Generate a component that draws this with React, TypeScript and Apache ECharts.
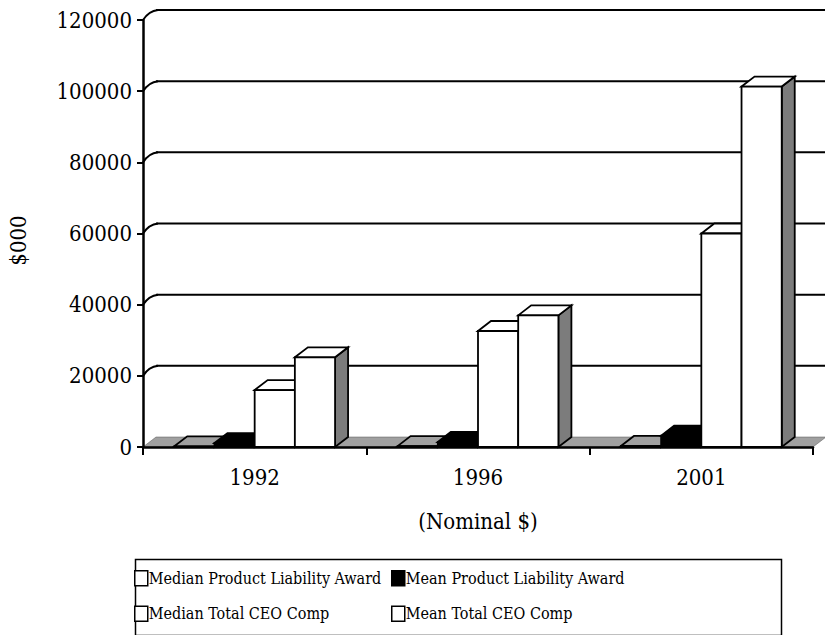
import React, { useEffect, useRef } from "react";
import * as echarts from "echarts";

const categories = ["1992", "1996", "2001"];
const seriesNames = [
  "Median Product Liability Award",
  "Mean Product Liability Award",
  "Median Total CEO Comp",
  "Mean Total CEO Comp",
];
const medianProductLiability = [200, 250, 300];
const meanProductLiability = [1100, 1400, 3200];
const medianCEOComp = [16000, 32600, 60000];
const meanCEOComp = [25200, 37000, 101300];
const yTicks = [0, 20000, 40000, 60000, 80000, 100000, 120000];

const FONT = '"DejaVu Serif Condensed", "DejaVu Serif", serif';
const DX = 13;
const DY = 10;
const SIDE = "#7c7c7c";
const FLOOR = "#a0a0a0";

const faceStyles = [
  { front: "#ffffff", top: FLOOR, side: SIDE, legend: "#ffffff" },
  { front: "#000000", top: "#000000", side: "#000000", legend: "#000000" },
  { front: "#ffffff", top: "#ffffff", side: SIDE, legend: "#ffffff" },
  { front: "#ffffff", top: "#ffffff", side: SIDE, legend: "#ffffff" },
];

const seriesValues = [medianProductLiability, meanProductLiability, medianCEOComp, meanCEOComp];

const makeBarRender = (idx: number) => (params: any, api: any) => {
  const cat = api.value(0);
  const v = api.value(1);
  const top = api.coord([cat, v]);
  const base = api.coord([cat, 0]);
  const band = api.size([1, 0])[0];
  const w = band * 0.18;
  const x0 = top[0] - 2 * w + idx * w;
  const yt = top[1];
  const yb = base[1];
  const st = faceStyles[idx];
  const stroke = { stroke: "#000", lineWidth: 1.8, lineJoin: "miter" };
  return {
    type: "group",
    children: [
      {
        type: "polygon",
        shape: { points: [[x0 + w, yt], [x0 + w + DX, yt - DY], [x0 + w + DX, yb - DY], [x0 + w, yb]] },
        style: { fill: st.side, ...stroke },
      },
      {
        type: "polygon",
        shape: { points: [[x0, yt], [x0 + DX, yt - DY], [x0 + w + DX, yt - DY], [x0 + w, yt]] },
        style: { fill: st.top, ...stroke },
      },
      {
        type: "rect",
        shape: { x: x0, y: yt, width: w, height: yb - yt },
        style: { fill: st.front, ...stroke },
      },
    ],
  };
};

const wallRender = (params: any, api: any) => {
  const v = api.value(1);
  const cs = params.coordSys;
  const y = api.coord([0, v])[1];
  const left = cs.x;
  const right = cs.x + cs.width;
  if (v === 0) {
    return {
      type: "polygon",
      shape: { points: [[left, y], [right, y], [right + DX, y - DY], [left + DX, y - DY]] },
      style: { fill: FLOOR, stroke: "#555", lineWidth: 0.5 },
    };
  }
  return {
    type: "group",
    children: [
      {
        type: "bezierCurve",
        shape: {
          x1: left,
          y1: y,
          cpx1: left + DX * 0.45,
          cpy1: y - DY * 0.9,
          x2: left + DX + 2,
          y2: y - DY,
        },
        style: { stroke: "#000", lineWidth: 2, fill: null },
      },
      {
        type: "line",
        shape: { x1: left + DX, y1: y - DY, x2: right + DX, y2: y - DY },
        style: { stroke: "#000", lineWidth: 2 },
      },
    ],
  };
};

export default function App() {
  const ref = useRef<HTMLDivElement>(null);
  useEffect(() => {
    if (!ref.current) return;
    const chart = echarts.init(ref.current, null, { renderer: "svg" });
    const legendItem = (i: number) => ({
      name: seriesNames[i],
      icon: "rect",
      itemStyle: { color: faceStyles[i].legend, borderColor: "#000", borderWidth: 1.5 },
    });
    const legendCommon = {
      orient: "vertical",
      top: 570,
      itemWidth: 13,
      itemHeight: 15,
      itemGap: 19,
      selectedMode: false,
      padding: 0,
      textStyle: { fontFamily: FONT, fontSize: 16, color: "#000", padding: [0, 0, 0, -4] },
    };
    chart.setOption({
      animation: false,
      backgroundColor: "#ffffff",
      grid: { left: 143, right: 12, top: 20, bottom: 188, outerBoundsMode: "none", containLabel: false },
      xAxis: {
        type: "category",
        data: categories,
        name: "(Nominal $)",
        nameLocation: "middle",
        nameGap: 63,
        nameTextStyle: { fontFamily: FONT, fontSize: 22, color: "#000" },
        axisLine: { show: true, lineStyle: { color: "#000", width: 2.5 } },
        axisTick: { show: true, length: 8, lineStyle: { color: "#000", width: 2 } },
        axisLabel: { fontFamily: FONT, fontSize: 22, color: "#000", margin: 19 },
        splitLine: { show: false },
        z: 10,
      },
      yAxis: {
        type: "value",
        min: 0,
        max: 120000,
        interval: 20000,
        name: "$000",
        nameLocation: "middle",
        nameGap: 114,
        nameTextStyle: { fontFamily: FONT, fontSize: 22, color: "#000", padding: [0, 14, 0, 0] },
        axisLine: { show: true, lineStyle: { color: "#000", width: 2.5 } },
        axisTick: { show: true, length: 6, lineStyle: { color: "#000", width: 2 } },
        axisLabel: {
          fontFamily: FONT,
          fontSize: 22,
          color: "#000",
          margin: 11,
          formatter: (v: number) => String(v),
        },
        splitLine: { show: false },
        z: 10,
      },
      legend: [
        { ...legendCommon, left: 134, data: [legendItem(0), legendItem(2)] },
        { ...legendCommon, left: 391, data: [legendItem(1), legendItem(3)] },
      ],
      graphic: [
        {
          type: "rect",
          left: 133,
          top: 557,
          shape: { width: 646, height: 76 },
          style: { fill: "none", stroke: "#000", lineWidth: 1.5 },
          silent: true,
        },
      ],
      series: [
        {
          type: "custom",
          name: "wall",
          renderItem: wallRender,
          data: yTicks.map((v) => [0, v]),
          encode: { x: 0, y: 1 },
          silent: true,
          z: 1,
        },
        ...seriesValues.map((vals, i) => ({
          type: "custom",
          name: seriesNames[i],
          renderItem: makeBarRender(i),
          data: vals.map((v, c) => [c, v]),
          encode: { x: 0, y: 1 },
          itemStyle: { color: faceStyles[i].legend, borderColor: "#000", borderWidth: 1.5 },
          z: 2,
        })),
      ],
    });
    return () => chart.dispose();
  }, []);
  return (
    <div
      ref={ref}
      style={{ position: "absolute", left: 0, top: 0, width: 825, height: 635, background: "#fff" }}
    />
  );
}
